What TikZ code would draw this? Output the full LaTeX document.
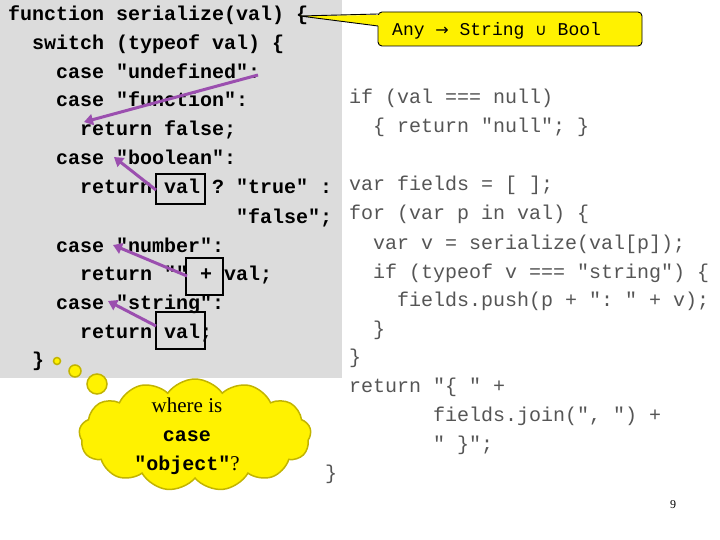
\documentclass[tikz,border=0pt]{standalone}
\usepackage{fontspec}
\setmainfont{Liberation Serif}
\setmonofont{Liberation Mono}
\newfontfamily\dvs{DejaVu Sans}
\usetikzlibrary{shapes.symbols,arrows.meta}
\definecolor{codegray}{HTML}{DCDCDC}
\definecolor{txtgray}{HTML}{555555}
\definecolor{purp}{HTML}{9B4FAF}
\definecolor{cloudedge}{HTML}{C2B400}
\tikzset{
 lc/.style={anchor=base west,inner sep=0pt,font=\fontsize{20}{24}\selectfont\ttfamily\bfseries},
 rc/.style={anchor=base west,inner sep=0pt,text=txtgray,font=\fontsize{20}{24}\selectfont\ttfamily},
 hbox/.style={draw=black,line width=1.6pt},
 parr/.style={draw=purp,line width=3pt,-{Triangle[length=9pt,width=11pt]}},
 bub/.style={fill=yellow,draw=cloudedge,line width=1.5pt}
}
\begin{document}
\begin{tikzpicture}[x=1pt,y=-1pt]
\useasboundingbox (0,0) rectangle (720,540);
\fill[codegray] (0,0) rectangle (342,378);
% left code
\node[lc] (l1) at (8,21) {function serialize(val) \{};
\node[lc] (l2) at (32,50) {switch (typeof val) \{};
\node[lc] (l3) at (56,79) {case "undefined":};
\node[lc] (l4) at (56,107) {case "function":};
\node[lc] (l5) at (80,136) {return false;};
\node[lc] (l6) at (56,165) {case "boolean":};
\node[lc] (l7) at (80,194) {return val ? "true" :};
\node[lc] (l8) at (236,223) {"false";};
\node[lc] (l9) at (56,252) {case "number":};
\node[lc] (l10) at (80,280) {return "" + val;};
\node[lc] (l11) at (56,309) {case "string":};
\node[lc] (l12) at (80,338) {return val;};
\node[lc] (l13) at (32,366) {\}};
% right code
\node[rc] (r1) at (349,104) {if (val === null)};
\node[rc] (r2) at (373,133) {\{ return "null"; \}};
\node[rc] (r3) at (349,191) {var fields = [ ];};
\node[rc] (r4) at (349,220) {for (var p in val) \{};
\node[rc] (r5) at (373,249) {var v = serialize(val[p]);};
\node[rc] (r6) at (373,278) {if (typeof v === "string") \{};
\node[rc] (r7) at (397,306) {fields.push(p + ": " + v);};
\node[rc] (r8) at (373,335) {\}};
\node[rc] (r9) at (349,363) {\}};
\node[rc] (r10) at (349,392) {return "\{ " +};
\node[rc] (r11) at (433,421) {fields.join(", ") +};
\node[rc] (r12) at (433,450) {" \}";};
\node[rc] (r13) at (325,479) {\}};
% highlight boxes
\draw[hbox] (156,174) rectangle (205,204);
\draw[hbox] (186,258) rectangle (223,295);
\draw[hbox] (156,312) rectangle (205,349);
% purple arrows
\coordinate (a1s) at (258,75); \coordinate (a1e) at (84,122);
\coordinate (a2s) at (156,190); \coordinate (a2e) at (114,157);
\coordinate (a3s) at (187,276); \coordinate (a3e) at (113,245);
\coordinate (a4s) at (156,326); \coordinate (a4e) at (108,301);
\draw[parr] (a1s) -- (a1e);
\draw[parr] (a2s) -- (a2e);
\draw[parr] (a3s) -- (a3e);
\draw[parr] (a4s) -- (a4e);
% callout
\coordinate (tip) at (300,16);
\draw[fill=yellow,line width=0.9pt,rounded corners=4pt] (378,12) rectangle (642,46);
\fill[yellow] (tip) -- (380,15) -- (380,26) -- cycle;
\draw[line width=0.9pt] (tip) -- (378,14) (tip) -- (378,26);
\node[anchor=base west,inner sep=0pt,font=\fontsize{18}{22}\selectfont\ttfamily] (cal) at (392,36) {Any {\dvs\fontsize{16}{20}\selectfont →} String {\dvs\fontsize{16}{20}\selectfont ∪} Bool};
% thought cloud
\draw[bub] (57,361) circle (3.5);
\draw[bub] (75,371) circle (6);
\draw[bub] (97,384) circle (10);
\node[cloud,cloud puffs=13,cloud puff arc=110,aspect=2,bub,minimum width=232pt,minimum height=112pt] (cl) at (195,435) {};
\node[anchor=base,inner sep=0pt,font=\fontsize{21}{24}\selectfont] (t1) at (187,412) {where is};
\node[anchor=base,inner sep=0pt,font=\fontsize{20}{24}\selectfont\ttfamily\bfseries] (t2) at (187,441) {case};
\node[anchor=base,inner sep=0pt,font=\fontsize{20}{24}\selectfont\ttfamily\bfseries] (t3) at (187,470) {"object"{\rmfamily\mdseries\fontsize{21}{24}\selectfont ?}};
\node[anchor=base,inner sep=0pt,font=\fontsize{12}{14}\selectfont] (pg) at (673,508) {9};
\end{tikzpicture}
\end{document}
